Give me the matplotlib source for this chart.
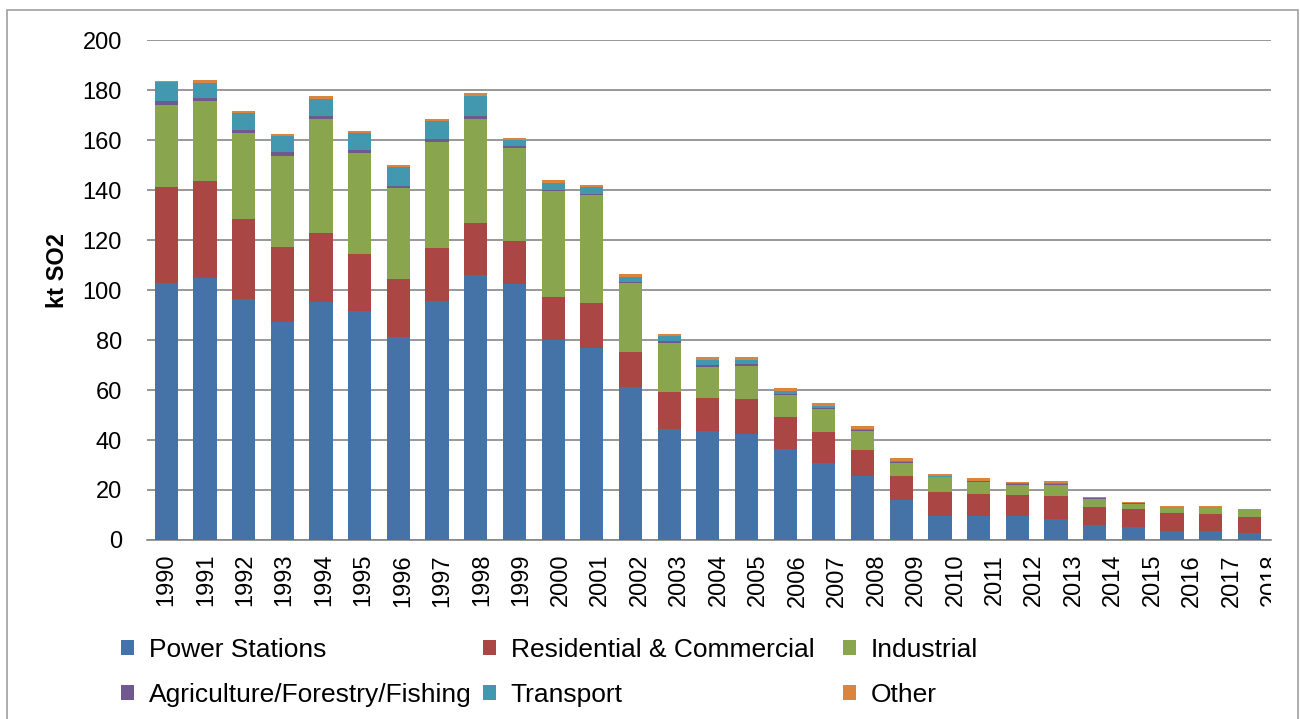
import matplotlib
matplotlib.use('Agg')
import matplotlib.pyplot as plt
from matplotlib.patches import Rectangle
from matplotlib.transforms import Bbox, TransformedBbox
import numpy as np

plt.rcParams['font.family'] = ['Liberation Sans', 'DejaVu Sans']

years = [str(y) for y in range(1990, 2019)]

power = [102.7, 104.9, 96.4, 87.3, 95.3, 91.6, 81.2, 95.6, 106.0, 102.5,
         80.0, 76.8, 61.2, 44.4, 43.6, 42.5, 36.5, 30.8, 25.5, 15.9,
         9.7, 9.7, 9.7, 8.4, 6.0, 5.2, 3.6, 3.6, 2.8]
residential = [38.5, 38.7, 32.0, 29.9, 27.5, 22.9, 23.2, 21.2, 20.8, 17.1,
               17.2, 18.0, 14.0, 14.8, 13.2, 13.9, 12.7, 12.5, 10.4, 9.8,
               9.4, 8.7, 8.3, 9.2, 7.3, 7.2, 7.2, 6.7, 6.3]
industrial = [32.8, 31.9, 34.3, 36.4, 45.5, 40.2, 36.3, 42.4, 41.6, 37.2,
              42.4, 43.2, 27.6, 19.6, 12.5, 13.3, 8.7, 9.0, 7.8, 5.2,
              6.1, 4.9, 4.1, 4.5, 3.2, 2.1, 2.3, 2.8, 2.9]
agriculture = [1.6, 1.4, 1.4, 1.5, 1.4, 1.3, 1.0, 1.1, 1.1, 0.8,
               0.5, 0.5, 0.5, 0.8, 0.7, 0.7, 0.5, 0.5, 0.4, 0.4,
               0.2, 0.2, 0.3, 0.3, 0.2, 0.2, 0.1, 0.1, 0.1]
transport = [7.6, 6.0, 6.8, 6.6, 6.8, 6.7, 7.6, 7.4, 8.2, 2.4,
             2.9, 2.8, 2.0, 2.0, 2.1, 1.7, 1.1, 0.8, 0.4, 0.4,
             0.3, 0.2, 0.4, 0.3, 0.2, 0.1, 0.1, 0.1, 0.1]
other = [0.4, 1.0, 0.6, 0.7, 1.1, 0.8, 0.8, 0.8, 1.0, 0.8,
         1.0, 0.7, 1.1, 0.8, 1.0, 1.1, 1.3, 1.2, 1.1, 1.1,
         0.8, 1.1, 0.5, 0.8, 0.2, 0.3, 0.3, 0.3, 0.2]

series = [
    ('Power Stations', power, '#4572A7'),
    ('Residential & Commercial', residential, '#AA4643'),
    ('Industrial', industrial, '#89A54E'),
    ('Agriculture/Forestry/Fishing', agriculture, '#71588F'),
    ('Transport', transport, '#4198AF'),
    ('Other', other, '#DB843D'),
]

W, H = 1300, 719
fig = plt.figure(figsize=(W / 100, H / 100), dpi=100)
ax = fig.add_axes([147 / W, 1 - 540 / H, (1271 - 147) / W, 500 / H])

x = np.arange(len(years))
bottom = np.zeros(len(years))
handles = {}
for name, vals, col in series:
    b = ax.bar(x, vals, 0.6, bottom=bottom, color=col, label=name, zorder=3)
    handles[name] = b
    bottom += np.array(vals)

ax.set_xlim(-0.5, len(years) - 0.5)
ax.set_ylim(0, 200)
ax.set_yticks(range(0, 201, 20))
ax.yaxis.grid(True, color='#868686', linewidth=1.2)
ax.set_axisbelow(True)
for s in ['top', 'right', 'left']:
    ax.spines[s].set_visible(False)
ax.spines['bottom'].set_color('#868686')
ax.spines['bottom'].set_linewidth(1.2)
ax.tick_params(axis='y', length=0, pad=18, labelsize=17)

# category labels drift slightly relative to the bars in the original
label_step = 1.02
ax.set_xticks(x * label_step)
ax.set_xticklabels(years, rotation=90, fontsize=17)
ax.tick_params(axis='x', length=0, pad=10)
clip = TransformedBbox(Bbox([[0, -1], [1, 1]]), ax.transAxes)
for lbl in ax.get_xticklabels():
    lbl.set_clip_on(True)
    lbl.set_clip_box(clip)

fig.text(57 / W, 1 - 271 / H, 'kt SO2', rotation=90, fontsize=17,
         fontweight='bold', ha='center', va='center')

# legend: three columns, two rows
cols = [
    (121, ['Power Stations', 'Agriculture/Forestry/Fishing']),
    (483, ['Residential & Commercial', 'Transport']),
    (843, ['Industrial', 'Other']),
]
for xpos, names in cols:
    fig.legend([handles[n] for n in names], names, loc='center left',
               bbox_to_anchor=(xpos / W, 1 - 672.5 / H), frameon=False,
               fontsize=19, handlelength=0.5, handleheight=0.5,
               handletextpad=0.55, borderpad=0, borderaxespad=0,
               labelspacing=0.78)

fig.patches.append(Rectangle((7 / W, -0.05), (1298 - 7) / W, 1.05 - 10 / H,
                             transform=fig.transFigure, fill=False,
                             edgecolor='#a0a0a0', linewidth=1.2))

fig.savefig('out.png', dpi=100)
